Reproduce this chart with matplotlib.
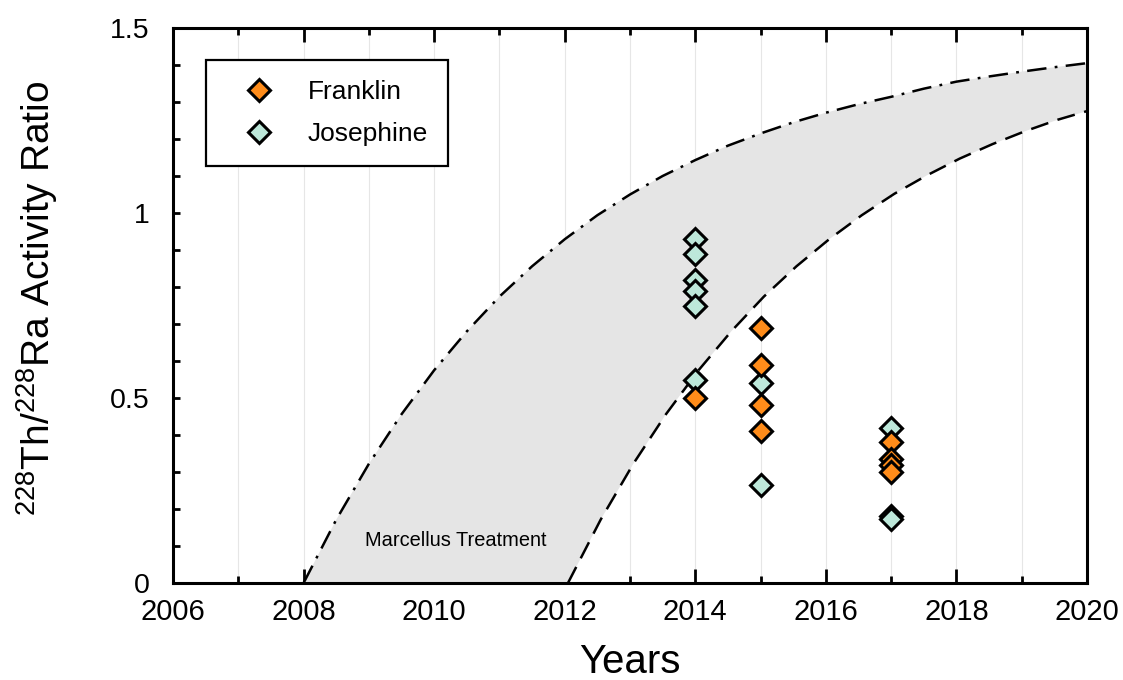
import numpy as np
import matplotlib
matplotlib.use("Agg")
import matplotlib.pyplot as plt
from matplotlib.ticker import MultipleLocator

# ---------------- data ----------------
franklin_x = [2014, 2015, 2015, 2015, 2015, 2017, 2017, 2017, 2017]
franklin_y = [0.50, 0.69, 0.59, 0.48, 0.41, 0.38, 0.335, 0.32, 0.30]

josephine_x = [2014, 2014, 2014, 2014, 2014, 2014, 2015, 2015, 2017, 2017, 2017]
josephine_y = [0.93, 0.89, 0.82, 0.79, 0.75, 0.55, 0.54, 0.265, 0.42, 0.18, 0.172]

# upper ingrowth curve (dash-dot)
upper_x = [2008.0, 2008.5, 2009.0, 2009.5, 2010.0, 2010.5, 2011.0, 2011.5, 2012.0,
           2012.5, 2013.0, 2013.5, 2014.0, 2014.5, 2015.0, 2015.5, 2016.0, 2016.5,
           2017.0, 2017.5, 2018.0, 2018.5, 2019.0, 2019.5, 2020.0]
upper_y = [0.0, 0.171, 0.322, 0.456, 0.575, 0.680, 0.774, 0.856, 0.929,
           0.994, 1.050, 1.100, 1.143, 1.182, 1.215, 1.245, 1.271, 1.294,
           1.314, 1.336, 1.355, 1.369, 1.382, 1.394, 1.405]

# lower ingrowth curve (dashed)
lower_x = [2012.05, 2012.55, 2013.05, 2013.55, 2014.05, 2014.55, 2015.05, 2015.55,
           2016.05, 2016.55, 2017.05, 2017.55, 2018.05, 2018.55, 2019.05, 2019.55,
           2020.05]
lower_y = [0.0, 0.171, 0.322, 0.456, 0.575, 0.680, 0.774, 0.856,
           0.929, 0.994, 1.052, 1.102, 1.147, 1.186, 1.221, 1.252, 1.278]

band_label = "Marcellus Treatment"
band_label_pos = (2010.33, 0.116)

# ---------------- style ----------------
plt.rcParams['font.family'] = ['Liberation Sans', 'DejaVu Sans']
plt.rcParams['mathtext.fontset'] = 'custom'
plt.rcParams['mathtext.rm'] = 'Liberation Sans'
plt.rcParams['mathtext.it'] = 'Liberation Sans:italic'
plt.rcParams['lines.scale_dashes'] = False

fig = plt.figure(figsize=(11.23, 6.8), dpi=100)
ax = fig.add_axes([173 / 1123, 1 - 583 / 680, (1087 - 173) / 1123, (583 - 28) / 680])

ax.set_xlim(2006, 2020)
ax.set_ylim(0, 1.5)

# vertical year grid
ax.xaxis.set_major_locator(MultipleLocator(2))
ax.xaxis.set_minor_locator(MultipleLocator(1))
ax.yaxis.set_major_locator(MultipleLocator(0.5))
ax.yaxis.set_minor_locator(MultipleLocator(0.1))
ax.grid(True, which='both', axis='x', color='#e6e6e6', lw=0.8, zorder=0)
ax.set_axisbelow(True)

# shaded band
poly_x = list(upper_x) + list(lower_x[::-1])
poly_y = list(upper_y) + list(lower_y[::-1])
ax.fill(poly_x, poly_y, color='#e5e5e5', lw=0, zorder=1)

ax.plot(upper_x, upper_y, color='black', lw=1.8, linestyle=(0, (14, 6, 2, 6)), zorder=2)
ax.plot(lower_x, lower_y, color='black', lw=1.8, linestyle=(0, (13, 7)), zorder=2)

ax.text(band_label_pos[0], band_label_pos[1], band_label, fontsize=14.4,
        ha='center', va='center', zorder=3)

mk = dict(marker='D', markersize=11.5, markeredgecolor='black', markeredgewidth=2.2,
          linestyle='none', zorder=4)
ax.plot(josephine_x, josephine_y, markerfacecolor='#bde8da', label='Josephine', **mk)
ax.plot(franklin_x, franklin_y, markerfacecolor='#ff8c1a', label='Franklin', **mk)

# ticks
for s in ax.spines.values():
    s.set_linewidth(2.2)
ax.tick_params(axis='x', which='major', direction='in', length=10, width=2.0,
               top=True, labelsize=21, pad=11)
ax.tick_params(axis='x', which='minor', direction='in', length=5, width=2.0, top=True)
ax.tick_params(axis='y', which='major', direction='in', length=5, width=2.0,
               labelsize=20.5, pad=17)
ax.tick_params(axis='y', which='minor', direction='in', length=5, width=2.0)
ax.set_yticks([0, 0.5, 1, 1.5])
ax.set_yticklabels(['0', '0.5', '1', '1.5'])

ax.set_xlabel('Years', fontsize=29)
ax.xaxis.set_label_coords(0.5, (583 - 643) / 555)
ax.set_ylabel('$^{228}$Th/$^{228}$Ra Activity Ratio', fontsize=28)
ax.yaxis.set_label_coords((60 - 173) / 914, 0.513)

# legend (Franklin first)
h, l = ax.get_legend_handles_labels()
order = [l.index('Franklin'), l.index('Josephine')]
leg = ax.legend([h[i] for i in order], [l[i] for i in order],
                loc='upper left', bbox_to_anchor=((206 - 173) / 914, (583 - 60) / 555),
                borderaxespad=0, fontsize=19, frameon=True, fancybox=False,
                edgecolor='black', borderpad=0.75, handlelength=2.5,
                handletextpad=0.6, labelspacing=0.7)
leg.get_frame().set_linewidth(1.6)
leg.get_frame().set_alpha(1)

fig.savefig('out.png', dpi=100)
